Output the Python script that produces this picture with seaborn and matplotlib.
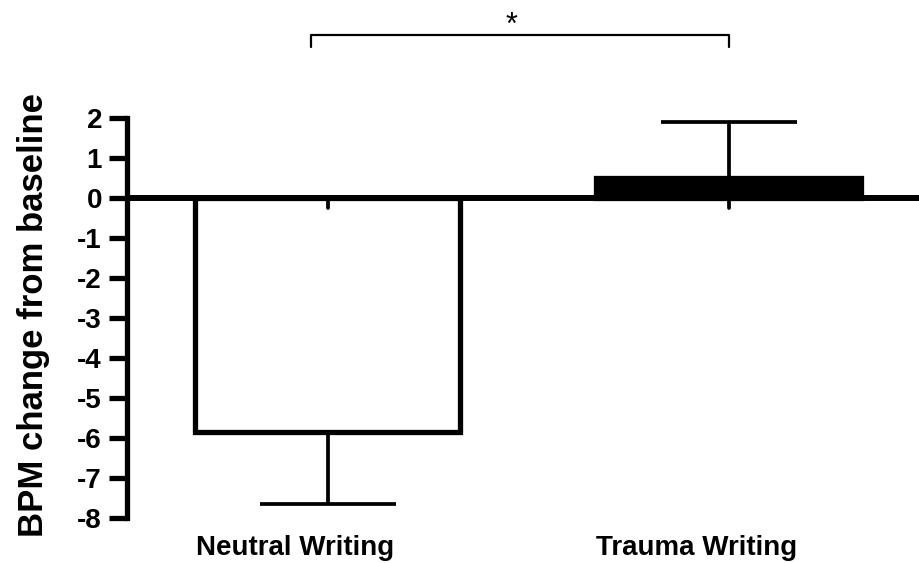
import matplotlib
matplotlib.use("Agg")
import matplotlib.pyplot as plt
import seaborn as sns
import pandas as pd

# values
conditions = ["Neutral Writing", "Trauma Writing"]
bpm_change = [-5.85, 0.5]
sem = [1.8, 1.4]
bar_colors = ["white", "black"]
y_ticks = [-8, -7, -6, -5, -4, -3, -2, -1, 0, 1, 2]

df = pd.DataFrame({"condition": conditions, "bpm": bpm_change})

sns.set_style("ticks", {"axes.edgecolor": "black", "text.color": "black",
                        "xtick.color": "black", "ytick.color": "black",
                        "axes.labelcolor": "black"})
plt.rcParams["font.family"] = ["Liberation Sans", "DejaVu Sans"]

fig = plt.figure(figsize=(9.19, 5.63), dpi=100)
ax = fig.add_axes([127 / 919, 45 / 563, 1 - 127 / 919, 1 - 45 / 563])

sns.barplot(data=df, x="condition", y="bpm", hue="condition",
            palette=bar_colors, edgecolor="black", linewidth=3.8,
            width=0.66, errorbar=None, legend=False, ax=ax, zorder=2)

# one-sided error bars (away from zero)
for i, (v, e) in enumerate(zip(bpm_change, sem)):
    lower = e if v < 0 else 0
    upper = e if v > 0 else 0
    ax.errorbar(i, v, yerr=[[lower], [upper]], fmt="none", ecolor="black",
                elinewidth=2.7, capsize=49, capthick=2.7, zorder=3)
    # small stub below the zero line
    ax.plot([i, i], [0, -0.25], color="black", lw=2.7,
            solid_capstyle="round", zorder=3)

ax.axhline(0, color="black", lw=4.3, zorder=4)

ax.set_xlim(-0.5, 1.475)
ax.set_ylim(-8, 4.95)
ax.set_yticks(y_ticks)
ax.set_yticklabels([str(t) for t in y_ticks], fontsize=20, fontweight="bold")
ax.tick_params(axis="y", length=13, width=3.8, pad=5, color="black",
               labelcolor="black")
# category labels sit a little left of the bar centres in the original
ax.set_xticks([-0.08, 0.92])
ax.set_xticklabels(conditions, fontsize=20, fontweight="bold")
ax.tick_params(axis="x", length=0, pad=12, labelcolor="black")

sns.despine(ax=ax, top=True, right=True, bottom=True)
ax.spines["left"].set_bounds(-8, 2)
ax.spines["left"].set_linewidth(3.8)
ax.spines["left"].set_color("black")
ax.set_xlabel("")
ax.set_ylabel("BPM change from baseline", fontsize=25, fontweight="bold",
              color="black")
ax.yaxis.set_label_coords(-0.097, 0.392)

# significance bracket
bx0, bx1, by, bh = -0.04, 1.0, 4.07, 0.3
ax.plot([bx0, bx0, bx1, bx1], [by - bh, by, by, by - bh], color="black",
        lw=1.6, clip_on=False)
ax.text(0.46, 4.1, "*", ha="center", va="baseline", fontsize=22,
        color="black", clip_on=False)

fig.savefig("out.png", dpi=100)
